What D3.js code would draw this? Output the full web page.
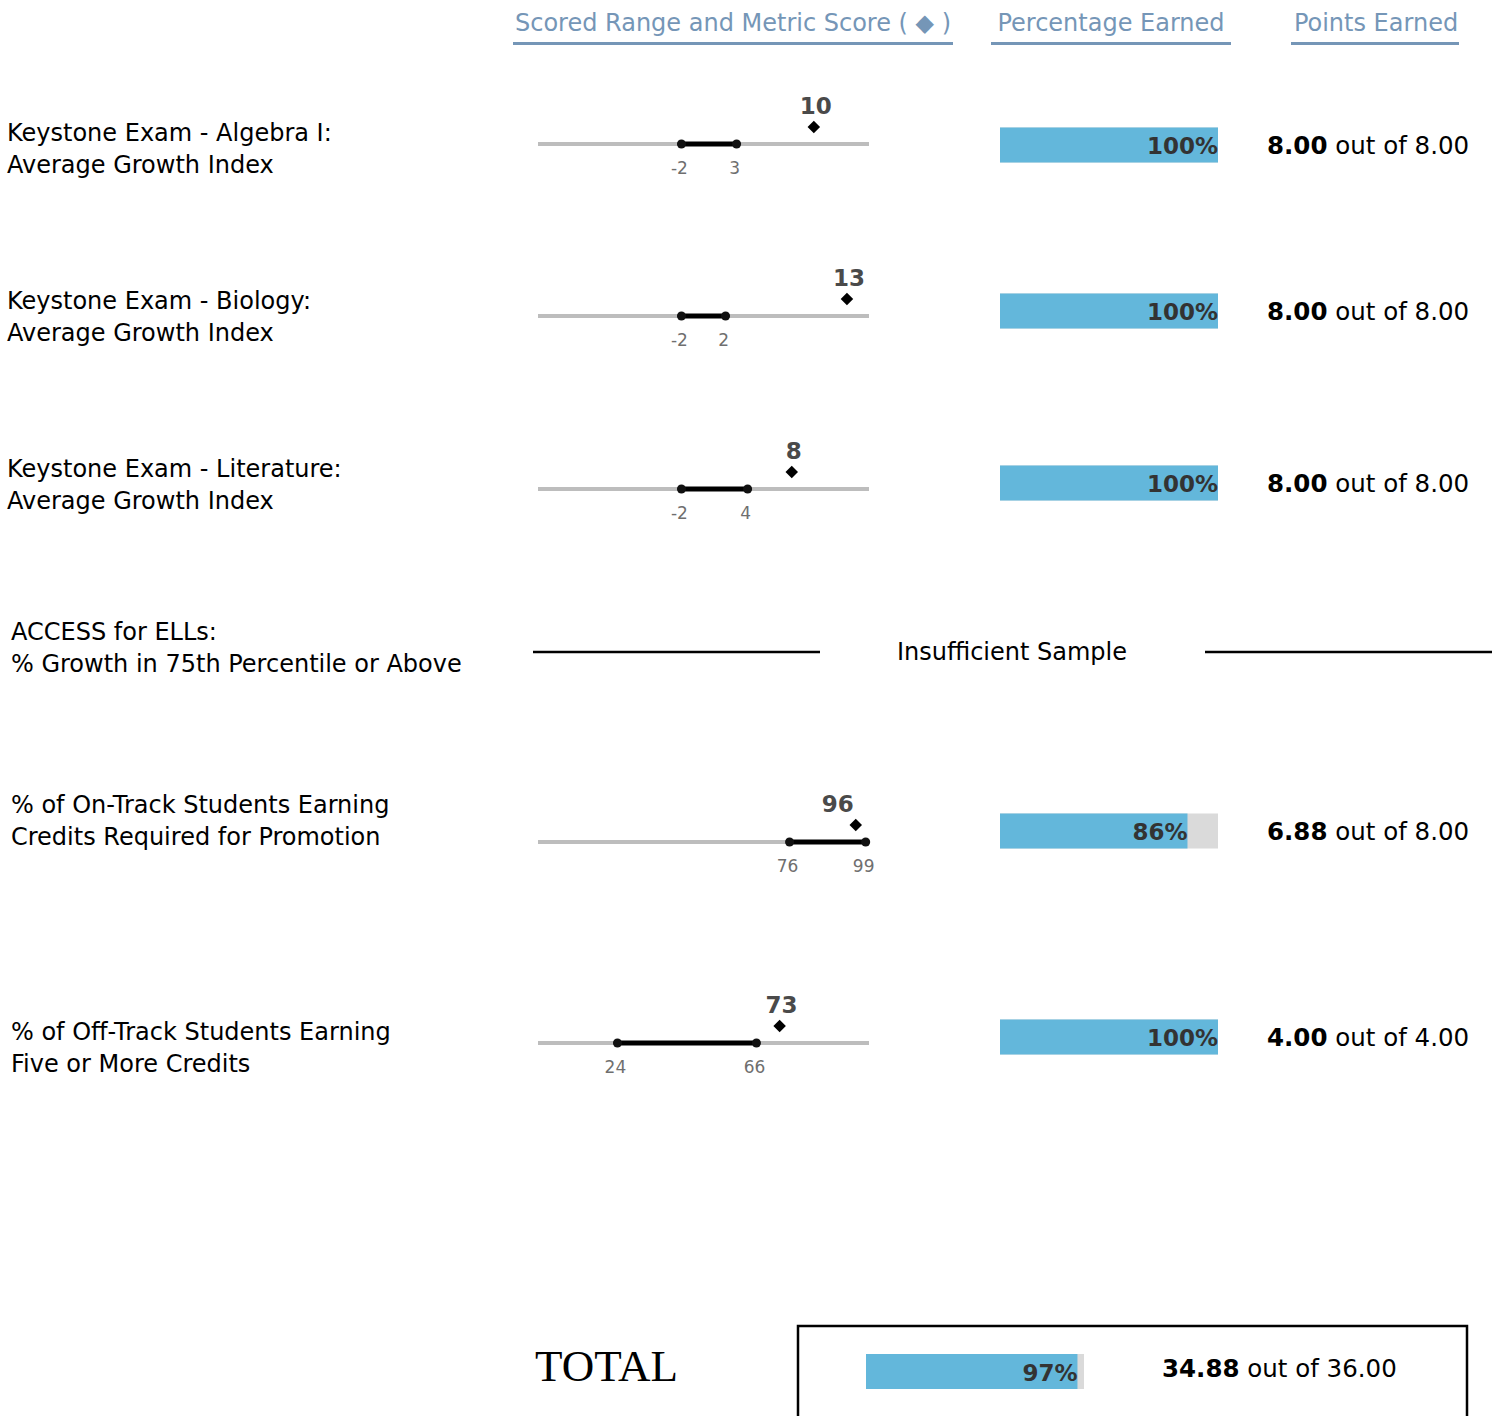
<!DOCTYPE html>
<html>
<head>
<meta charset="utf-8">
<script src="https://cdn.jsdelivr.net/npm/d3@7"></script>
<style>
  body { margin: 0; background: #fff; }
  svg { display: block; }
</style>
</head>
<body>
<script>
// data
const metricLabels = [
  ["Keystone Exam - Algebra I:", "Average Growth Index"],
  ["Keystone Exam - Biology:", "Average Growth Index"],
  ["Keystone Exam - Literature:", "Average Growth Index"],
  ["ACCESS for ELLs:", "% Growth in 75th Percentile or Above"],
  ["% of On-Track Students Earning", "Credits Required for Promotion"],
  ["% of Off-Track Students Earning", "Five or More Credits"]
];
const scaleKind = ["growth", "growth", "growth", null, "pct", "pct"];
const rangeLow = [-2, -2, -2, null, 76, 24];
const rangeHigh = [3, 2, 4, null, 99, 66];
const metricScore = [10, 13, 8, null, 96, 73];
const pctEarned = [100, 100, 100, null, 86, 100];
const pointsEarned = [8.00, 8.00, 8.00, null, 6.88, 4.00];
const pointsPossible = [8.00, 8.00, 8.00, null, 8.00, 4.00];
const headers = ["Scored Range and Metric Score ( \u25C6 )", "Percentage Earned", "Points Earned"];
const totalEarned = 34.88, totalPossible = 36.00, totalPct = 97;

// layout
const width = 1496, height = 1416;
const lineY = [144, 316, 489, 652, 842, 1043];
const labelY = [149, 317, 485, 648, 821, 1048];
const barY = [145, 311, 483, null, 831, 1037];
const font = "Tahoma, 'DejaVu Sans', Verdana, sans-serif";
const blue = "#63b7db";
const headBlue = "#7596b7";

const svg = d3.select("body").append("svg")
  .attr("width", width).attr("height", height)
  .attr("font-family", font);

const xScales = {
  growth: d3.scaleLinear().domain([-15, 15]).range([538, 869]),
  pct: d3.scaleLinear().domain([0, 100]).range([538, 869])
};
const xBar = d3.scaleLinear().domain([0, 100]).range([1000, 1218]);

// headers
const headX = [733, 1111, 1376];
const headLine = [[513, 953], [991, 1231], [1291, 1459]];
headers.forEach((h, i) => {
  svg.append("text")
    .attr("x", headX[i]).attr("y", 31)
    .attr("text-anchor", "middle")
    .attr("font-size", 24)
    .attr("fill", headBlue)
    .text(h);
  svg.append("line")
    .attr("x1", headLine[i][0]).attr("x2", headLine[i][1])
    .attr("y1", 43.5).attr("y2", 43.5)
    .attr("stroke", headBlue).attr("stroke-width", 3);
});

metricLabels.forEach((lab, i) => {
  const g = svg.append("g");
  const lx = i < 3 ? 7 : 11;
  g.append("text")
    .attr("x", lx).attr("y", labelY[i])
    .attr("font-size", 24)
    .attr("fill", "#000")
    .selectAll("tspan").data(lab).join("tspan")
      .attr("x", lx)
      .attr("dy", (d, j) => j === 0 ? "-0.32em" : "1.34em")
      .text(d => d);

  if (scaleKind[i] === null) {
    // insufficient sample
    g.append("line").attr("x1", 533).attr("x2", 820)
      .attr("y1", lineY[i]).attr("y2", lineY[i])
      .attr("stroke", "#000").attr("stroke-width", 2.5);
    g.append("line").attr("x1", 1205).attr("x2", 1492)
      .attr("y1", lineY[i]).attr("y2", lineY[i])
      .attr("stroke", "#000").attr("stroke-width", 2.5);
    g.append("text").attr("x", 1012).attr("y", lineY[i] + 8)
      .attr("text-anchor", "middle").attr("font-size", 24)
      .text("Insufficient Sample");
    return;
  }

  const x = xScales[scaleKind[i]];
  const y = lineY[i];
  g.append("line")
    .attr("x1", x.range()[0]).attr("x2", x.range()[1])
    .attr("y1", y).attr("y2", y)
    .attr("stroke", "#bdbdbd").attr("stroke-width", 4);
  g.append("line")
    .attr("x1", x(rangeLow[i])).attr("x2", x(rangeHigh[i]))
    .attr("y1", y).attr("y2", y)
    .attr("stroke", "#000").attr("stroke-width", 5);
  g.selectAll("circle").data([rangeLow[i], rangeHigh[i]]).join("circle")
    .attr("cx", d => x(d)).attr("cy", y).attr("r", 4.5).attr("fill", "#111");
  g.selectAll(".tick").data([rangeLow[i], rangeHigh[i]]).join("text")
    .attr("x", d => x(d) - 2).attr("y", y + 30)
    .attr("text-anchor", "middle").attr("font-size", 17)
    .attr("fill", "#6f6f6f")
    .text(d => d);

  const sx = x(metricScore[i]);
  g.append("path")
    .attr("d", d3.symbol(d3.symbolDiamond2, 100)())
    .attr("transform", `translate(${sx},${y - 17})`)
    .attr("fill", "#000");
  const inside = metricScore[i] >= rangeLow[i] && metricScore[i] <= rangeHigh[i];
  g.append("text")
    .attr("x", sx + (inside ? -18 : 2)).attr("y", y - 30)
    .attr("text-anchor", "middle").attr("font-size", 23)
    .attr("font-weight", "bold").attr("fill", "#4a4a4a")
    .text(metricScore[i]);

  // percentage bar
  const by = barY[i];
  g.append("rect").attr("x", xBar(0)).attr("y", by - 17.5)
    .attr("width", xBar(100) - xBar(0)).attr("height", 35)
    .attr("fill", "#dadada");
  g.append("rect").attr("x", xBar(0)).attr("y", by - 17.5)
    .attr("width", xBar(pctEarned[i]) - xBar(0)).attr("height", 35)
    .attr("fill", blue);
  g.append("text").attr("x", xBar(pctEarned[i])).attr("y", by + 9)
    .attr("text-anchor", "end").attr("font-size", 23).attr("font-weight", "bold")
    .attr("fill", "#333").text(pctEarned[i] + "%");

  const t = g.append("text").attr("x", 1267).attr("y", by + 9).attr("font-size", 24.5);
  t.append("tspan").attr("font-weight", "bold").text(pointsEarned[i].toFixed(2));
  t.append("tspan").text(" out of " + pointsPossible[i].toFixed(2));
});

// total
svg.append("text").attr("x", 535).attr("y", 1381)
  .attr("font-family", "'Liberation Serif', 'Times New Roman', serif")
  .attr("font-size", 45).text("TOTAL");
svg.append("rect").attr("x", 798).attr("y", 1326)
  .attr("width", 669).attr("height", 120)
  .attr("fill", "none").attr("stroke", "#000").attr("stroke-width", 2.5);
const xTot = d3.scaleLinear().domain([0, 100]).range([866, 1084]);
svg.append("rect").attr("x", xTot(0)).attr("y", 1354)
  .attr("width", xTot(100) - xTot(0)).attr("height", 35).attr("fill", "#dadada");
svg.append("rect").attr("x", xTot(0)).attr("y", 1354)
  .attr("width", xTot(totalPct) - xTot(0)).attr("height", 35).attr("fill", blue);
svg.append("text").attr("x", xTot(totalPct)).attr("y", 1381)
  .attr("text-anchor", "end").attr("font-size", 23).attr("font-weight", "bold")
  .attr("fill", "#333").text(totalPct + "%");
const tt = svg.append("text").attr("x", 1162).attr("y", 1377).attr("font-size", 24.5);
tt.append("tspan").attr("font-weight", "bold").text(totalEarned.toFixed(2));
tt.append("tspan").text(" out of " + totalPossible.toFixed(2));
</script>
</body>
</html>
